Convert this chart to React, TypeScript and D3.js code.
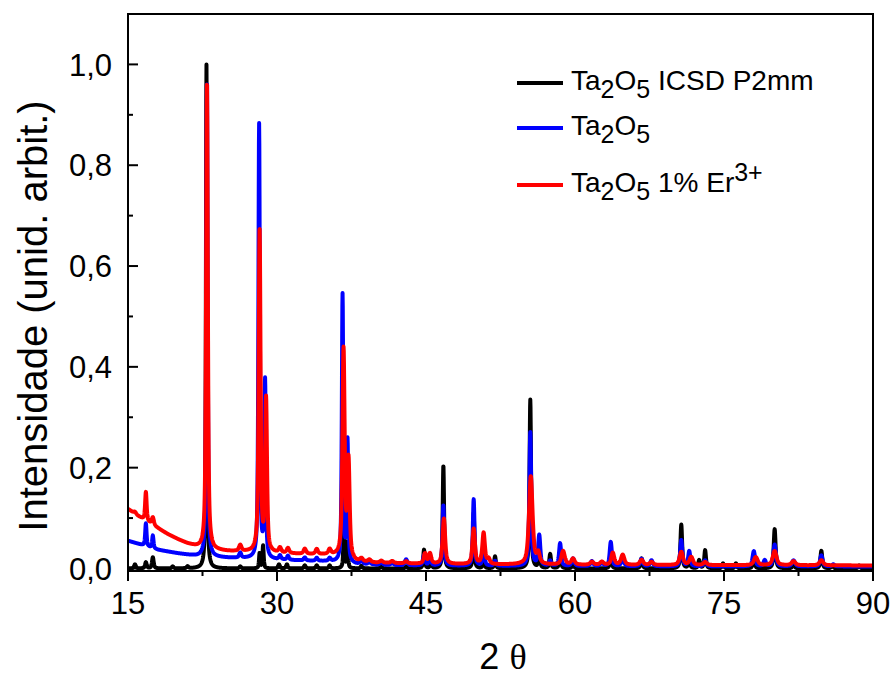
import React from "react";
import * as d3 from "d3";

// Peak tables: [2θ position (deg), height above background, FWHM (deg)]
const refPeaks: [number, number, number][] = [
  [15.7, 0.008, 0.2], [16.8, 0.012, 0.2], [17.5, 0.022, 0.2], [19.5, 0.004, 0.2],
  [21.0, 0.004, 0.2], [22.9, 1.0, 0.13], [26.3, 0.004, 0.2], [28.25, 0.03, 0.14],
  [28.6, 0.045, 0.14], [30.2, 0.008, 0.2], [31.0, 0.008, 0.2], [32.8, 0.006, 0.2],
  [34.0, 0.006, 0.2], [35.3, 0.006, 0.2], [36.75, 0.1, 0.14], [37.1, 0.05, 0.14],
  [38.5, 0.005, 0.2], [40.5, 0.004, 0.2], [43.0, 0.004, 0.2], [44.8, 0.037, 0.18],
  [45.5, 0.015, 0.18], [46.75, 0.205, 0.16], [49.8, 0.11, 0.16], [50.8, 0.02, 0.18],
  [51.95, 0.024, 0.18], [55.5, 0.335, 0.18], [56.4, 0.03, 0.2], [57.5, 0.028, 0.2],
  [58.5, 0.03, 0.2], [59.8, 0.01, 0.2], [63.6, 0.03, 0.2], [66.7, 0.02, 0.22],
  [70.7, 0.087, 0.2], [71.5, 0.02, 0.2], [72.5, 0.016, 0.2], [73.1, 0.036, 0.2],
  [74.9, 0.01, 0.2], [76.2, 0.01, 0.2], [78.0, 0.02, 0.22], [80.1, 0.078, 0.22],
  [82.0, 0.01, 0.22], [84.8, 0.035, 0.22], [85.9, 0.006, 0.22], [88.6, 0.006, 0.22],
];

const pureBackground: [number, number][] = [
  [15, 0.055], [16, 0.049], [18, 0.037], [20, 0.03], [22, 0.024], [25, 0.021],
  [28, 0.019], [30, 0.017], [35, 0.014], [36.5, 0.012], [38, 0.008], [42, 0.006],
  [50, 0.005], [70, 0.004], [90, 0.004],
];

const purePeaks: [number, number, number][] = [
  [16.8, 0.045, 0.16], [17.5, 0.025, 0.16], [22.95, 0.95, 0.16], [26.3, 0.01, 0.25],
  [28.2, 0.86, 0.17], [28.8, 0.35, 0.17], [30.3, 0.008, 0.25], [31.1, 0.008, 0.25],
  [32.8, 0.006, 0.25], [34.0, 0.006, 0.25], [35.3, 0.006, 0.25], [36.6, 0.53, 0.17],
  [37.1, 0.24, 0.17], [38.5, 0.008, 0.3], [39.3, 0.005, 0.3], [40.5, 0.005, 0.3],
  [41.6, 0.005, 0.3], [43.0, 0.012, 0.3], [44.8, 0.02, 0.25], [45.4, 0.015, 0.25],
  [46.75, 0.12, 0.2], [49.8, 0.132, 0.2], [50.8, 0.03, 0.25], [51.95, 0.01, 0.25],
  [55.5, 0.265, 0.22], [56.4, 0.06, 0.25], [57.5, 0.01, 0.25], [58.5, 0.045, 0.25],
  [59.8, 0.015, 0.3], [61.7, 0.01, 0.3], [62.7, 0.008, 0.3], [63.6, 0.048, 0.25],
  [64.8, 0.015, 0.3], [66.7, 0.015, 0.3], [67.7, 0.012, 0.3], [70.7, 0.052, 0.25],
  [71.5, 0.03, 0.25], [73.1, 0.012, 0.3], [78.0, 0.03, 0.3], [79.1, 0.012, 0.3],
  [80.1, 0.043, 0.3], [82.0, 0.012, 0.35], [84.8, 0.022, 0.3], [86.0, 0.004, 0.3],
];

const dopedBackground: [number, number][] = [
  [15, 0.118], [16, 0.104], [17, 0.092], [18, 0.08], [19, 0.068], [20, 0.058],
  [21, 0.049], [22, 0.042], [23, 0.037], [25, 0.034], [28, 0.032], [30, 0.03],
  [35, 0.027], [36.3, 0.025], [38, 0.013], [40, 0.011], [45, 0.009], [50, 0.008],
  [60, 0.007], [90, 0.006],
];

const dopedPeaks: [number, number, number][] = [
  [15.7, 0.004, 0.3], [16.8, 0.057, 0.18], [17.5, 0.015, 0.25], [22.95, 0.93, 0.2],
  [26.3, 0.012, 0.3], [28.25, 0.64, 0.22], [28.9, 0.3, 0.22], [30.3, 0.01, 0.3],
  [31.1, 0.01, 0.3], [32.8, 0.01, 0.3], [34.0, 0.01, 0.3], [35.3, 0.01, 0.3],
  [36.7, 0.41, 0.26], [37.2, 0.19, 0.26], [38.5, 0.006, 0.35], [39.3, 0.005, 0.35],
  [40.5, 0.004, 0.35], [41.6, 0.004, 0.35], [43.0, 0.004, 0.35], [44.9, 0.02, 0.3],
  [45.4, 0.02, 0.3], [46.8, 0.09, 0.3], [49.8, 0.07, 0.3], [50.8, 0.062, 0.3],
  [51.3, 0.01, 0.3], [55.55, 0.175, 0.42], [56.3, 0.02, 0.35], [58.8, 0.027, 0.4],
  [59.8, 0.012, 0.4], [61.7, 0.006, 0.4], [62.7, 0.006, 0.4], [63.8, 0.024, 0.35],
  [64.8, 0.02, 0.4], [66.7, 0.01, 0.4], [67.7, 0.006, 0.4], [70.7, 0.026, 0.4],
  [71.7, 0.016, 0.4], [73.1, 0.006, 0.4], [78.2, 0.016, 0.45], [80.1, 0.028, 0.45],
  [82.0, 0.008, 0.45], [84.8, 0.01, 0.45],
];

const xMajorTicks = [15, 30, 45, 60, 75, 90];
const xMinorTicks = [22.5, 37.5, 52.5, 67.5, 82.5];
const yMajorTicks = [0, 0.2, 0.4, 0.6, 0.8, 1.0];
const yMinorTicks = [0.1, 0.3, 0.5, 0.7, 0.9];

const W = 896;
const H = 682;
const M = { left: 128, right: 873, top: 14, bottom: 571 };
const FONT = "'Liberation Sans', Arial, Helvetica, sans-serif";

// Pseudo-Voigt profile summed over a peak table plus a background curve
function profile(
  peaks: [number, number, number][],
  bg: [number, number][] | null,
  step = 0.02
): [number, number][] {
  const bgScale = bg
    ? d3.scaleLinear().domain(bg.map((d) => d[0])).range(bg.map((d) => d[1])).clamp(true)
    : null;
  const eta = 0.65;
  const out: [number, number][] = [];
  for (let t = 15; t <= 90.0001; t += step) {
    let y = bgScale ? bgScale(t) : 0;
    for (const [p, h, w] of peaks) {
      const u = (t - p) / (w / 2);
      const lor = 1 / (1 + u * u);
      const gau = Math.exp(-Math.LN2 * u * u);
      y += h * (eta * lor + (1 - eta) * gau);
    }
    out.push([t, y]);
  }
  return out;
}

const series = [
  { name: "ref", color: "#000000", data: profile(refPeaks, null) },
  { name: "pure", color: "#0000ff", data: profile(purePeaks, pureBackground) },
  { name: "doped", color: "#ff0000", data: profile(dopedPeaks, dopedBackground) },
];

const fmt = (v: number) => d3.format(".1f")(v).replace(".", ",");

export default function App() {
  const x = d3.scaleLinear().domain([15, 90]).range([M.left, M.right]);
  const y = d3.scaleLinear().domain([-0.005, 1.1]).range([M.bottom, M.top]);
  const line = d3
    .line<[number, number]>()
    .x((d) => x(d[0]))
    .y((d) => y(d[1]));

  const legendRows = [
    { color: "#000000", y: 83, label: "ref" },
    { color: "#0000ff", y: 128, label: "pure" },
    { color: "#ff0000", y: 185, label: "doped" },
  ];

  return (
    <svg
      width={W}
      height={H}
      style={{ position: "absolute", left: 0, top: 0, background: "#fff" }}
      fontFamily={FONT}
    >
      <defs>
        <clipPath id="plot-area">
          <rect x={M.left} y={M.top} width={M.right - M.left} height={M.bottom - M.top} />
        </clipPath>
      </defs>

      <g clipPath="url(#plot-area)">
        {series.map((s) => (
          <path
            key={s.name}
            d={line(s.data) || ""}
            fill="none"
            stroke={s.color}
            strokeWidth={4}
            strokeLinejoin="round"
            strokeLinecap="round"
          />
        ))}
      </g>

      {/* frame */}
      <rect
        x={M.left}
        y={M.top}
        width={M.right - M.left}
        height={M.bottom - M.top}
        fill="none"
        stroke="#000"
        strokeWidth={2}
      />

      {/* y ticks (inward) */}
      {yMajorTicks.map((v) => (
        <g key={"ym" + v}>
          <line x1={M.left} x2={M.left + 10} y1={y(v)} y2={y(v)} stroke="#000" strokeWidth={2} />
          <text x={M.left - 16} y={y(v)} dy="0.36em" textAnchor="end" fontSize={31}>
            {fmt(v)}
          </text>
        </g>
      ))}
      {yMinorTicks.map((v) => (
        <line key={"yn" + v} x1={M.left} x2={M.left + 5} y1={y(v)} y2={y(v)} stroke="#000" strokeWidth={2} />
      ))}

      {/* x ticks (outward) */}
      {xMajorTicks.map((v) => (
        <g key={"xm" + v}>
          <line x1={x(v)} x2={x(v)} y1={M.bottom} y2={M.bottom + 10} stroke="#000" strokeWidth={2} />
          <text x={x(v)} y={614} textAnchor="middle" fontSize={31}>
            {v}
          </text>
        </g>
      ))}
      {xMinorTicks.map((v) => (
        <line key={"xn" + v} x1={x(v)} x2={x(v)} y1={M.bottom} y2={M.bottom + 5} stroke="#000" strokeWidth={2} />
      ))}

      {/* axis titles */}
      <text x={503} y={669} textAnchor="middle" fontSize={36}>
        <tspan>2 </tspan>
        <tspan fontFamily="'Liberation Serif', 'Times New Roman', serif">θ</tspan>
      </text>
      <text
        transform={`translate(47, 316) rotate(-90)`}
        textAnchor="middle"
        fontSize={40}
      >
        Intensidade (unid. arbit.)
      </text>

      {/* legend */}
      {legendRows.map((r) => (
        <g key={r.label}>
          <line x1={517} x2={563} y1={r.y} y2={r.y} stroke={r.color} strokeWidth={4} />
          <text x={571} y={r.y + 7} fontSize={28}>
            <tspan>Ta</tspan>
            <tspan fontSize={25} dy={8}>2</tspan>
            <tspan dy={-8}>O</tspan>
            <tspan fontSize={25} dy={8}>5</tspan>
            {r.label === "ref" && <tspan dy={-8}> ICSD P2mm</tspan>}
            {r.label === "doped" && (
              <>
                <tspan dy={-8}> 1% Er</tspan>
                <tspan fontSize={25} dy={-11}>3+</tspan>
              </>
            )}
          </text>
        </g>
      ))}
    </svg>
  );
}
